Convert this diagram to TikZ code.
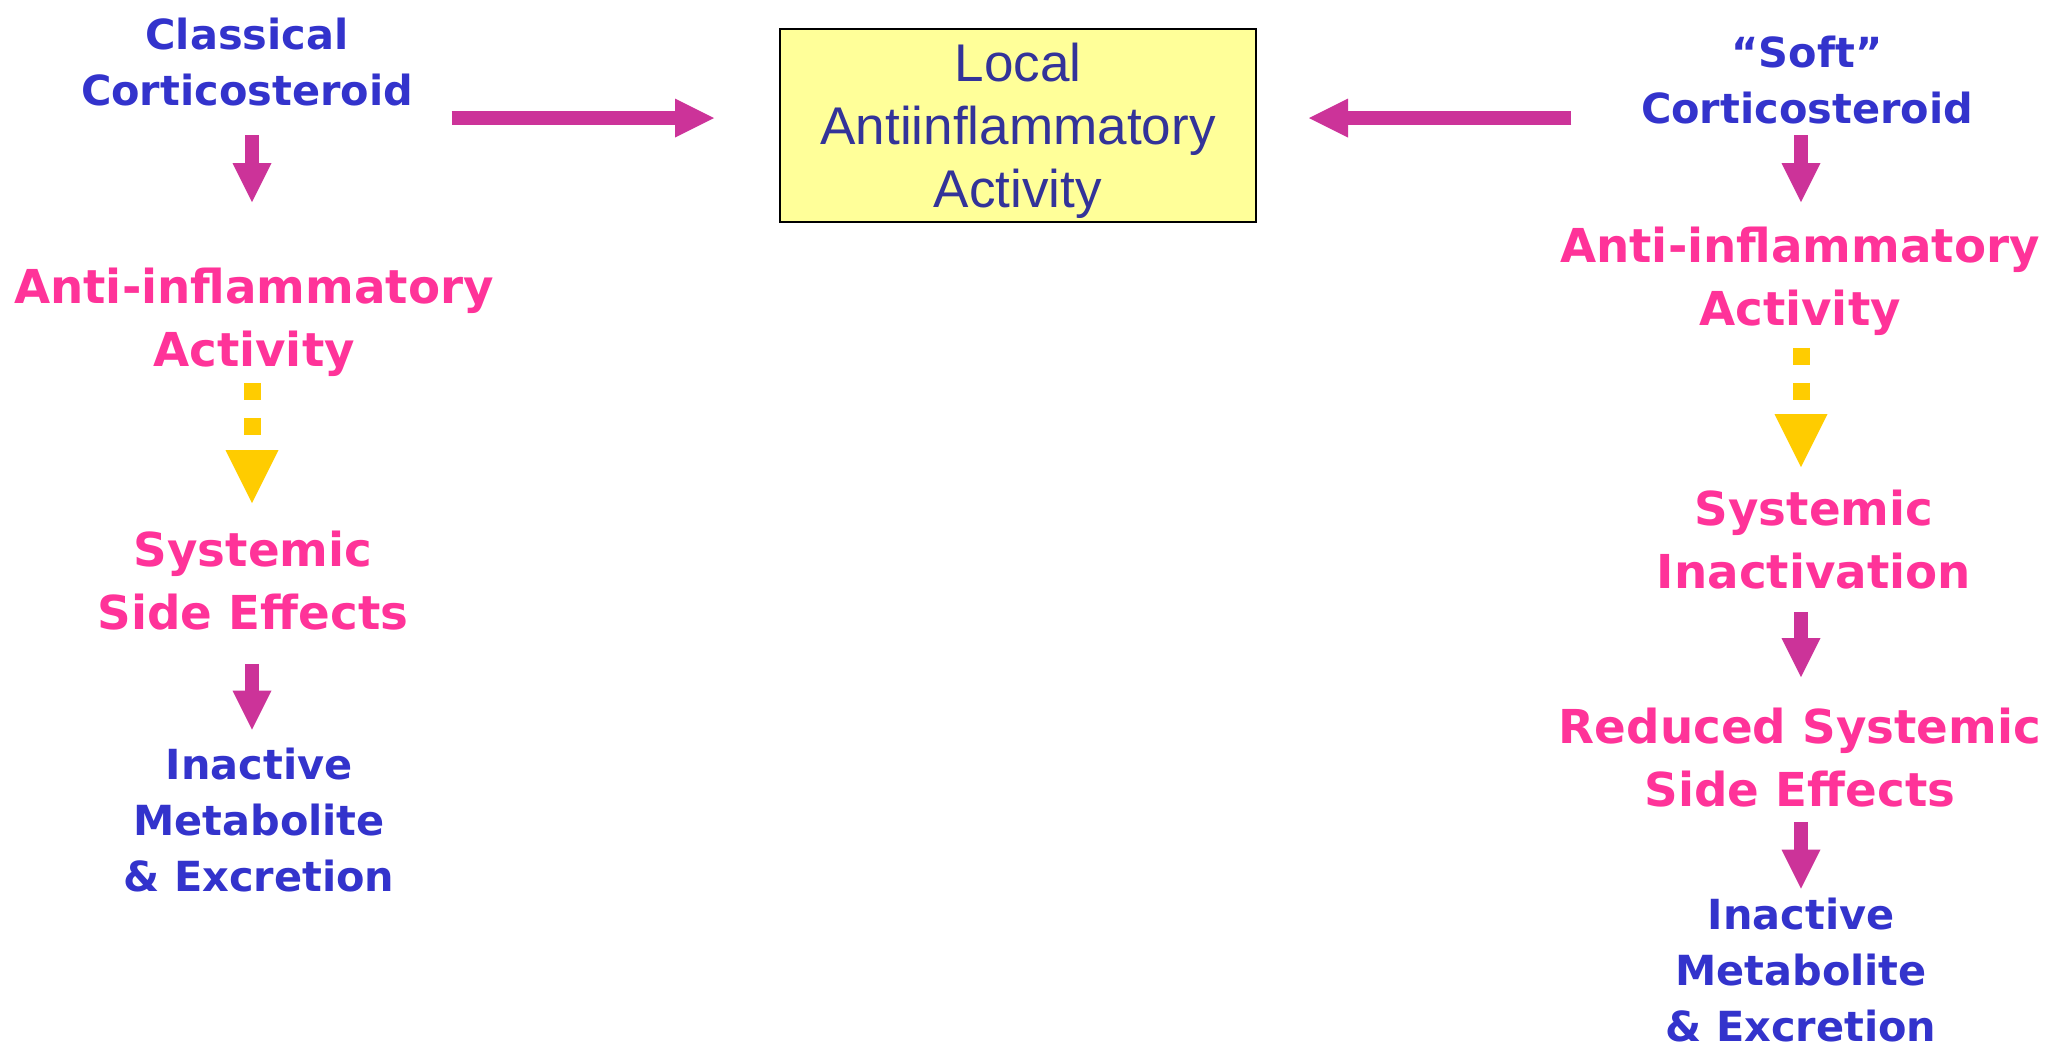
\documentclass[tikz,border=0pt]{standalone}
\usepackage{fontspec}
\setmainfont{DejaVu Sans}
\newfontfamily\boxfont{Liberation Sans}
\usetikzlibrary{arrows.meta,calc}
\definecolor{steroidblue}{RGB}{51,51,204}
\definecolor{effectpink}{RGB}{255,51,153}
\definecolor{arrowmagenta}{RGB}{204,51,153}
\definecolor{dashyellow}{RGB}{255,204,0}
\definecolor{boxyellow}{RGB}{255,255,153}
\definecolor{boxtext}{RGB}{51,51,153}
\begin{document}
\begin{tikzpicture}[steroid/.style={text=steroidblue,font=\fontsize{11.8}{15.9}\selectfont\bfseries,align=center,inner sep=0pt,text depth=0pt},
        effect/.style={text=effectpink,font=\fontsize{13.3}{17.9}\selectfont\bfseries,align=center,inner sep=0pt,text depth=0pt},
        marrow/.style={draw=arrowmagenta,line width=0.14cm,-{Triangle[length=0.39cm,width=0.39cm,line width=0pt]}},
        yarrow/.style={draw=dashyellow,line width=0.17cm,dash pattern=on 0.17cm off 0.18cm,-{Triangle[length=0.53cm,width=0.53cm,line width=0pt]}}]
        \useasboundingbox (0,0) rectangle (20.51,-10.5);
        \node[steroid] at (2.47,-0.62) (1) {Classical\\Corticosteroid};
        \node[effect] at (2.54,-3.17) (2) {Anti-inflammatory\\Activity};
        \node[effect] at (2.53,-5.80) (3) {Systemic\\Side Effects};
        \node[steroid] at (2.59,-8.20) (4) {Inactive\\Metabolite\\\& Excretion};
        \node[draw=black,line width=0.02cm,fill=boxyellow,text=boxtext,font=\boxfont\fontsize{15.1}{18}\selectfont,align=center,minimum width=4.76cm,minimum height=1.93cm,inner sep=0pt,text depth=0pt] at (10.18,-1.255) (5) {Local\\Antiinflammatory\\Activity};
        \node[steroid] at (18.07,-0.80) (6) {“Soft”\\Corticosteroid};
        \node[effect] at (18.00,-2.76) (7) {Anti-inflammatory\\Activity};
        \node[effect] at (18.14,-5.39) (8) {Systemic\\Inactivation};
        \node[effect] at (18.00,-7.57) (9) {Reduced Systemic\\Side Effects};
        \node[steroid] at (18.01,-9.70) (10) {Inactive\\Metabolite\\\& Excretion};
        \coordinate (l) at (2.52,0);
        \coordinate (r) at (18.01,0);
        \draw[marrow,shorten <=0.29cm,shorten >=0.65cm] (1.south -| l) -- (2.north -| l);
        \draw[yarrow,shorten <=0.16cm,shorten >=0.27cm] (2.south -| l) -- (3.north -| l);
        \draw[marrow,shorten <=0.34cm,shorten >=0.18cm] (3.south -| l) -- (4.north -| l);
        \draw[marrow,shorten <=0.11cm,shorten >=0.24cm] (6.south -| r) -- (7.north -| r);
        \draw[yarrow,shorten <=0.22cm,shorten >=0.22cm] (7.south -| r) -- (8.north -| r);
        \draw[marrow,shorten <=0.23cm,shorten >=0.30cm] (8.south -| r) -- (9.north -| r);
        \draw[marrow,shorten <=0.15cm,shorten >=0.09cm] (9.south -| r) -- (10.north -| r);
        \draw[marrow,shorten <=0.38cm,shorten >=0.65cm] ($(1.east |- 5.west)+(0,0.075)$) -- ($(5.west)+(0,0.075)$);
        \draw[marrow,shorten <=0.69cm,shorten >=0.52cm] ($(6.west |- 5.east)+(0,0.075)$) -- ($(5.east)+(0,0.075)$);
    \end{tikzpicture}
\end{document}
